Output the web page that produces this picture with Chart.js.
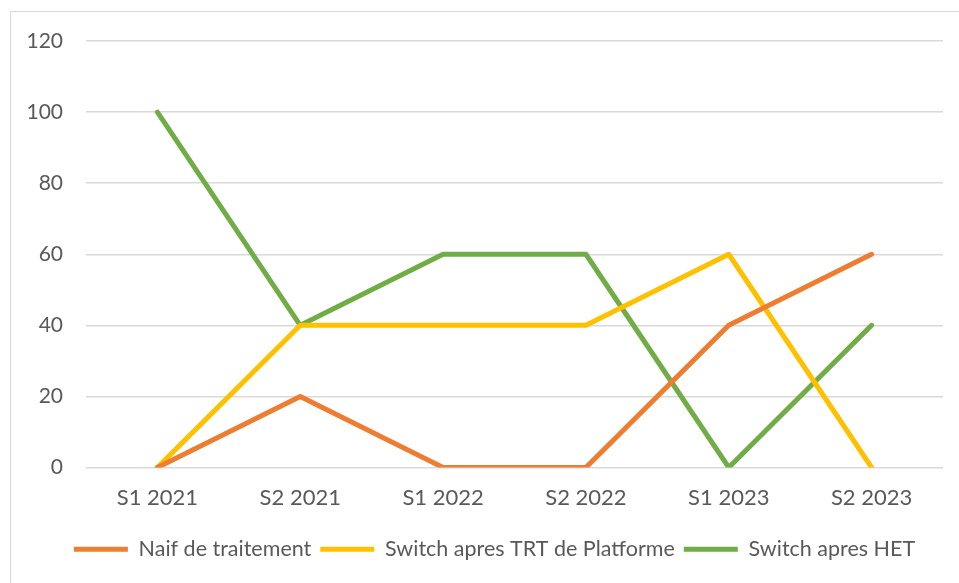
<!DOCTYPE html>
<html>
<head>
<meta charset="utf-8">
<script src="https://cdn.jsdelivr.net/npm/chart.js@4/dist/chart.umd.min.js"></script>
<style>
    html, body { margin: 0; padding: 0; background: #fff; }
    #wrap { position: relative; width: 959px; height: 583px; overflow: hidden; }
    #frame { position: absolute; left: 10px; top: 11px; width: 980px; height: 600px; border: 1px solid #d9d9d9; box-sizing: border-box; }
    canvas { position: absolute; left: 0; top: 0; }
</style>
</head>
<body>
<div id="wrap">
    <div id="frame"></div>
    <canvas id="lineChart" width="959" height="583"></canvas>
</div>
<script>
const categories = ['S1 2021', 'S2 2021', 'S1 2022', 'S2 2022', 'S1 2023', 'S2 2023'];
const naifValues = [0, 20, 0, 0, 40, 60];
const trtValues = [0, 40, 40, 40, 60, 0];
const hetValues = [100, 40, 60, 60, 0, 40];
const yTicks = [0, 20, 40, 60, 80, 100, 120];

const textColor = '#595959';
const fontFamily = 'Lato, "Open Sans", sans-serif';

function makeLine(label, data, color) {
    return {
        label: label,
        data: data,
        borderColor: color,
        backgroundColor: color,
        borderWidth: 5,
        borderCapStyle: 'round',
        borderJoinStyle: 'round',
        pointRadius: 0,
        pointStyle: 'line',
        tension: 0,
        fill: false
    };
}

// nudge the legend to the right, the Excel legend is centred on the plot area
const legendShift = {
    id: 'legendShift',
    afterLayout(chart) {
        if (chart.legend) {
            chart.legend.left += 23;
            chart.legend.right += 23;
        }
    }
};

new Chart(document.getElementById('lineChart'), {
    type: 'line',
    data: {
        labels: categories,
        datasets: [
            makeLine('Naif de traitement', naifValues, '#ED7D31'),
            makeLine('Switch apres TRT de Platforme', trtValues, '#FFC000'),
            makeLine('Switch apres HET', hetValues, '#70AD47')
        ]
    },
    plugins: [legendShift],
    options: {
        responsive: false,
        animation: false,
        layout: { padding: { top: 41, right: 16, bottom: 13, left: 0 } },
        plugins: {
            tooltip: { enabled: false },
            legend: {
                position: 'bottom',
                labels: {
                    color: textColor,
                    font: { family: fontFamily, size: 21.5 },
                    usePointStyle: true,
                    pointStyleWidth: 54,
                    padding: 9
                }
            }
        },
        scales: {
            x: {
                offset: true,
                grid: { display: false, drawTicks: false },
                border: { display: false },
                ticks: {
                    color: textColor,
                    font: { family: fontFamily, size: 22 },
                    padding: 17,
                    maxRotation: 0
                },
                afterFit: function(scale) { scale.height = 62; }
            },
            y: {
                min: 0,
                max: 120,
                afterBuildTicks: function(scale) {
                    scale.ticks = yTicks.map(v => ({ value: v }));
                },
                grid: { color: '#d9d9d9', lineWidth: 1.5, drawTicks: false },
                border: { display: false },
                ticks: {
                    color: textColor,
                    font: { family: fontFamily, size: 21 },
                    padding: 23
                },
                afterFit: function(scale) { scale.width = 86; }
            }
        }
    }
});
</script>
</body>
</html>
